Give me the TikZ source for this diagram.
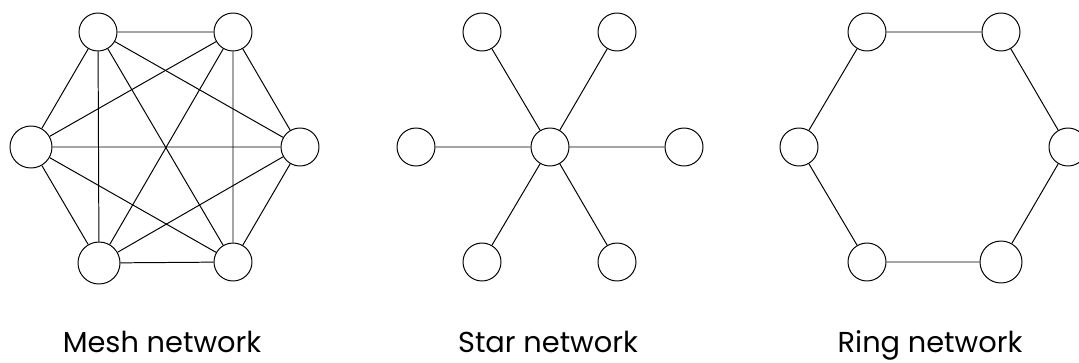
\documentclass[tikz,border=0pt]{standalone}
\usepackage{fontspec}
\setmainfont{Poppins}
\usetikzlibrary{positioning}

\begin{document}
\begin{tikzpicture}[
    x=0.025cm, y=-0.025cm,
    host/.style={circle, draw=black, fill=white, line width=0.7pt, minimum size=38*0.025cm, inner sep=0pt},
    link/.style={draw=black, line width=0.7pt},
    caption/.style={anchor=base, font=\fontsize{20.5}{25}\selectfont, inner sep=0pt}
]
    \useasboundingbox (0,0) rectangle (1079,362);
    \clip (0,0) rectangle (1079,362);

    % Mesh
    \node[host] (M1) at (98, 32) {};
    \node[host] (M2) at (233, 32) {};
    \node[host, minimum size=42*0.025cm] (M3) at (31, 147) {};
    \node[host] (M4) at (300, 147) {};
    \node[host, minimum size=42*0.025cm] (M5) at (99, 263) {};
    \node[host] (M6) at (233, 262) {};

    \draw[link] (M1) -- (M2) (M1) -- (M3) (M1) -- (M4) (M1) -- (M5) (M1) -- (M6);
    \draw[link] (M2) -- (M3) (M2) -- (M4) (M2) -- (M5) (M2) -- (M6);
    \draw[link] (M3) -- (M4) (M3) -- (M5) (M3) -- (M6);
    \draw[link] (M4) -- (M5) (M4) -- (M6);
    \draw[link] (M5) -- (M6);

    % Star
    \node[host] (S0) at (550, 147) {};
    \node[host] (S1) at (482, 32) {};
    \node[host] (S2) at (617, 32) {};
    \node[host] (S3) at (416, 147) {};
    \node[host] (S4) at (684, 147) {};
    \node[host] (S5) at (482, 262) {};
    \node[host] (S6) at (617, 262) {};

    \draw[link] (S0) -- (S1) (S0) -- (S2) (S0) -- (S3) (S0) -- (S4) (S0) -- (S5) (S0) -- (S6);

    % Ring
    \node[host] (R1) at (867, 32) {};
    \node[host] (R2) at (1001, 32) {};
    \node[host] (R3) at (799, 147) {};
    \node[host] (R4) at (1068, 147) {};
    \node[host] (R5) at (867, 262) {};
    \node[host, minimum size=42*0.025cm] (R6) at (1001, 262) {};

    \draw[link] (R1) -- (R2) -- (R4) -- (R6) -- (R5) -- (R3) -- (R1);

    % Captions
    \node[caption] (meshcap) at (162, 352) {Mesh network};
    \node[caption] (starcap) at (548, 352) {Star network};
    \node[caption] (ringcap) at (930, 352) {Ring network};
\end{tikzpicture}
\end{document}
